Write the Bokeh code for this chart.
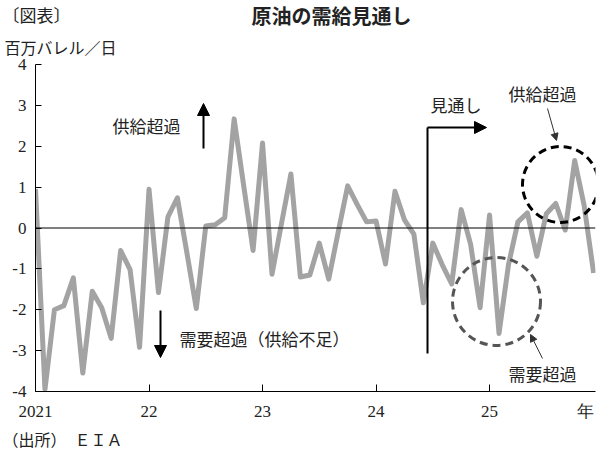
import numpy as np
from bokeh.plotting import figure
from bokeh.layouts import column
from bokeh.models import Label, Arrow, NormalHead, Span, Range1d, FixedTicker, LinearAxis, Title
from bokeh.embed import file_html
from bokeh.resources import INLINE

# ---- data (monthly, Jan 2021 - Dec 2025), million barrels/day ----
balance_2021 = [0.95, -3.95, -2.0, -1.9, -1.22, -3.55, -1.55, -1.95, -2.7, -0.55, -1.02, -2.92]
balance_2022 = [0.95, -1.58, 0.27, 0.74, -0.6, -1.97, 0.05, 0.08, 0.25, 2.67, 1.05, -0.55]
balance_2023 = [2.08, -1.13, 0.1, 1.32, -1.2, -1.15, -0.37, -1.25, -0.1, 1.03, 0.58, 0.15]
balance_2024 = [0.17, -0.88, 0.9, 0.2, -0.15, -1.83, -0.37, -0.9, -1.37, 0.45, -0.4, -1.95]
balance_2025 = [0.32, -2.58, -0.9, 0.15, 0.37, -0.69, 0.35, 0.6, -0.05, 1.65, 0.55, -1.1]
year_labels = ["2021", "22", "23", "24", "25"]
unit_label = "年"
y_ticks = [-4, -3, -2, -1, 0, 1, 2, 3, 4]

values = balance_2021 + balance_2022 + balance_2023 + balance_2024 + balance_2025
months = np.arange(len(values))

JP = "Noto Sans CJK JP"
NUM = "'Liberation Serif'"
TXT = "#222222"


def blank_fig(height, y0):
    f = figure(width=600, height=height, output_backend="svg", toolbar_location=None,
               x_range=Range1d(0, 600), y_range=Range1d(y0 + height, y0),
               x_axis_type=None, y_axis_type=None, frame_align=False,
               min_border_left=0, min_border_right=0, min_border_top=0, min_border_bottom=0)
    f.outline_line_color = None
    f.xgrid.visible = False
    f.ygrid.visible = False
    f.title.visible = False
    return f


def data_label(f, text, px, py, size="17px", align="left", font=JP, bold=False):
    f.add_layout(Label(x=px, y=py, text=text, text_font=font, text_font_size=size,
                       text_color=TXT, text_align=align, text_baseline="middle",
                       text_font_style="bold" if bold else "normal"))


# ---------------- header ----------------
HEAD_H = 29
header = blank_fig(HEAD_H, 0)
data_label(header, "〔図表〕", 2, 14, size="17px")
data_label(header, "原油の需給見通し", 331, 14.5, size="20px", align="center", bold=True)

# ---------------- main chart ----------------
MAIN_TOP = HEAD_H
MAIN_H = 425 - HEAD_H
p = figure(width=600, height=MAIN_H, output_backend="svg", toolbar_location=None,
           x_range=Range1d(0, 59.2), y_range=Range1d(-4, 4), frame_align=False,
           min_border_left=35, min_border_right=5, min_border_top=35, min_border_bottom=34)
p.title.visible = False
p.xgrid.visible = False
p.ygrid.visible = False
p.outline_line_color = None

# unit text above the y axis (side panel title, shifted left of the frame)
p.add_layout(Title(text="百万バレル／日", align="left", offset=-31, vertical_align="middle",
                   standoff=9, text_font=JP, text_font_size="16px",
                   text_font_style="normal", text_color=TXT), "above")

p.yaxis.ticker = FixedTicker(ticks=y_ticks)
p.yaxis.major_label_overrides = {t: str(t) for t in y_ticks}
p.yaxis.major_tick_in = 6
p.yaxis.major_tick_out = 0
p.yaxis.minor_tick_line_color = None
p.yaxis.major_label_text_font = NUM
p.yaxis.major_label_text_font_size = "17px"
p.yaxis.major_label_text_color = TXT
p.yaxis.major_label_standoff = 9
p.yaxis.axis_line_color = "black"

# axis A: line and inner ticks only
xt = [12 * i for i in range(len(year_labels))]
p.xaxis.ticker = FixedTicker(ticks=xt)
p.xaxis.major_label_overrides = {t: "" for t in xt}
p.xaxis.major_label_text_font_size = "0px"
p.xaxis.major_label_standoff = 0
p.xaxis.major_tick_in = 7
p.xaxis.major_tick_out = 0
p.xaxis.minor_tick_line_color = None
p.xaxis.axis_line_color = "black"

# axis B: labels only (years + unit)
unit_pos = (585 - 35) * 59.2 / 560.0
xb = xt + [unit_pos]
lab_b = {t: lab for t, lab in zip(xt, year_labels)}
lab_b[unit_pos] = unit_label
axb = LinearAxis(ticker=FixedTicker(ticks=xb), major_label_overrides=lab_b,
                 axis_line_color=None, major_tick_line_color=None, minor_tick_line_color=None,
                 major_tick_in=0, major_tick_out=0, major_label_standoff=10,
                 major_label_text_font=NUM, major_label_text_font_size="17px",
                 major_label_text_color=TXT)
p.add_layout(axb, "below")

p.add_layout(Span(location=0, dimension="width", line_color="black", line_width=1))

p.line(months, values, line_color="#a3a3a3", line_width=5, line_join="round")


def dx(px):
    return (px - 35) * 59.2 / 560.0


def dy(py):
    return (391 - py) * 8.0 / 327.0 - 4


def label(text, px, py, size="17px", align="left"):
    p.add_layout(Label(x=px - 35, y=391 - py, x_units="screen", y_units="screen",
                       text=text, text_font=JP, text_font_size=size,
                       text_color=TXT, text_align=align, text_baseline="middle"))


def head():
    return NormalHead(size=12, fill_color="black", line_color="black")


label("供給超過", 112, 125)
p.add_layout(Arrow(x_start=dx(203), y_start=dy(148), x_end=dx(203), y_end=dy(103),
                   line_width=2, line_color="black", end=head()))
label("需要超過（供給不足）", 179, 338)
p.add_layout(Arrow(x_start=dx(160), y_start=dy(310), x_end=dx(160), y_end=dy(357),
                   line_width=2, line_color="black", end=head()))

p.add_layout(Arrow(x_start=dx(427), y_start=dy(353), x_end=dx(427), y_end=dy(127),
                   line_width=2, line_color="black", end=None))
p.add_layout(Arrow(x_start=dx(427), y_start=dy(127), x_end=dx(486), y_end=dy(127),
                   line_width=2, line_color="black", end=head()))
label("見通し", 430, 104)

p.scatter(x=[dx(560)], y=[dy(184)], size=76, marker="circle", fill_color=None,
          line_color="black", line_width=3, line_dash="8 5")
p.scatter(x=[dx(496)], y=[dy(301)], size=88, marker="circle", fill_color=None,
          line_color="#555555", line_width=3, line_dash="8 5")

label("供給超過", 508, 93)
p.add_layout(Arrow(x_start=dx(547), y_start=dy(108), x_end=dx(556), y_end=dy(140),
                   line_width=1, line_color="#333333",
                   end=NormalHead(size=7, fill_color="#333333", line_color="#333333")))
label("需要超過", 508, 373)
p.add_layout(Arrow(x_start=dx(542), y_start=dy(358), x_end=dx(530), y_end=dy(334),
                   line_width=1, line_color="#333333",
                   end=NormalHead(size=7, fill_color="#333333", line_color="#333333")))

# ---------------- footer ----------------
FOOT_TOP = MAIN_TOP + MAIN_H
footer = blank_fig(450 - FOOT_TOP, FOOT_TOP)
data_label(footer, "（出所）　ＥＩＡ", 2, 438, size="16px")

layout = column(header, p, footer, spacing=0)
open("out.html", "w").write(file_html(layout, INLINE))
